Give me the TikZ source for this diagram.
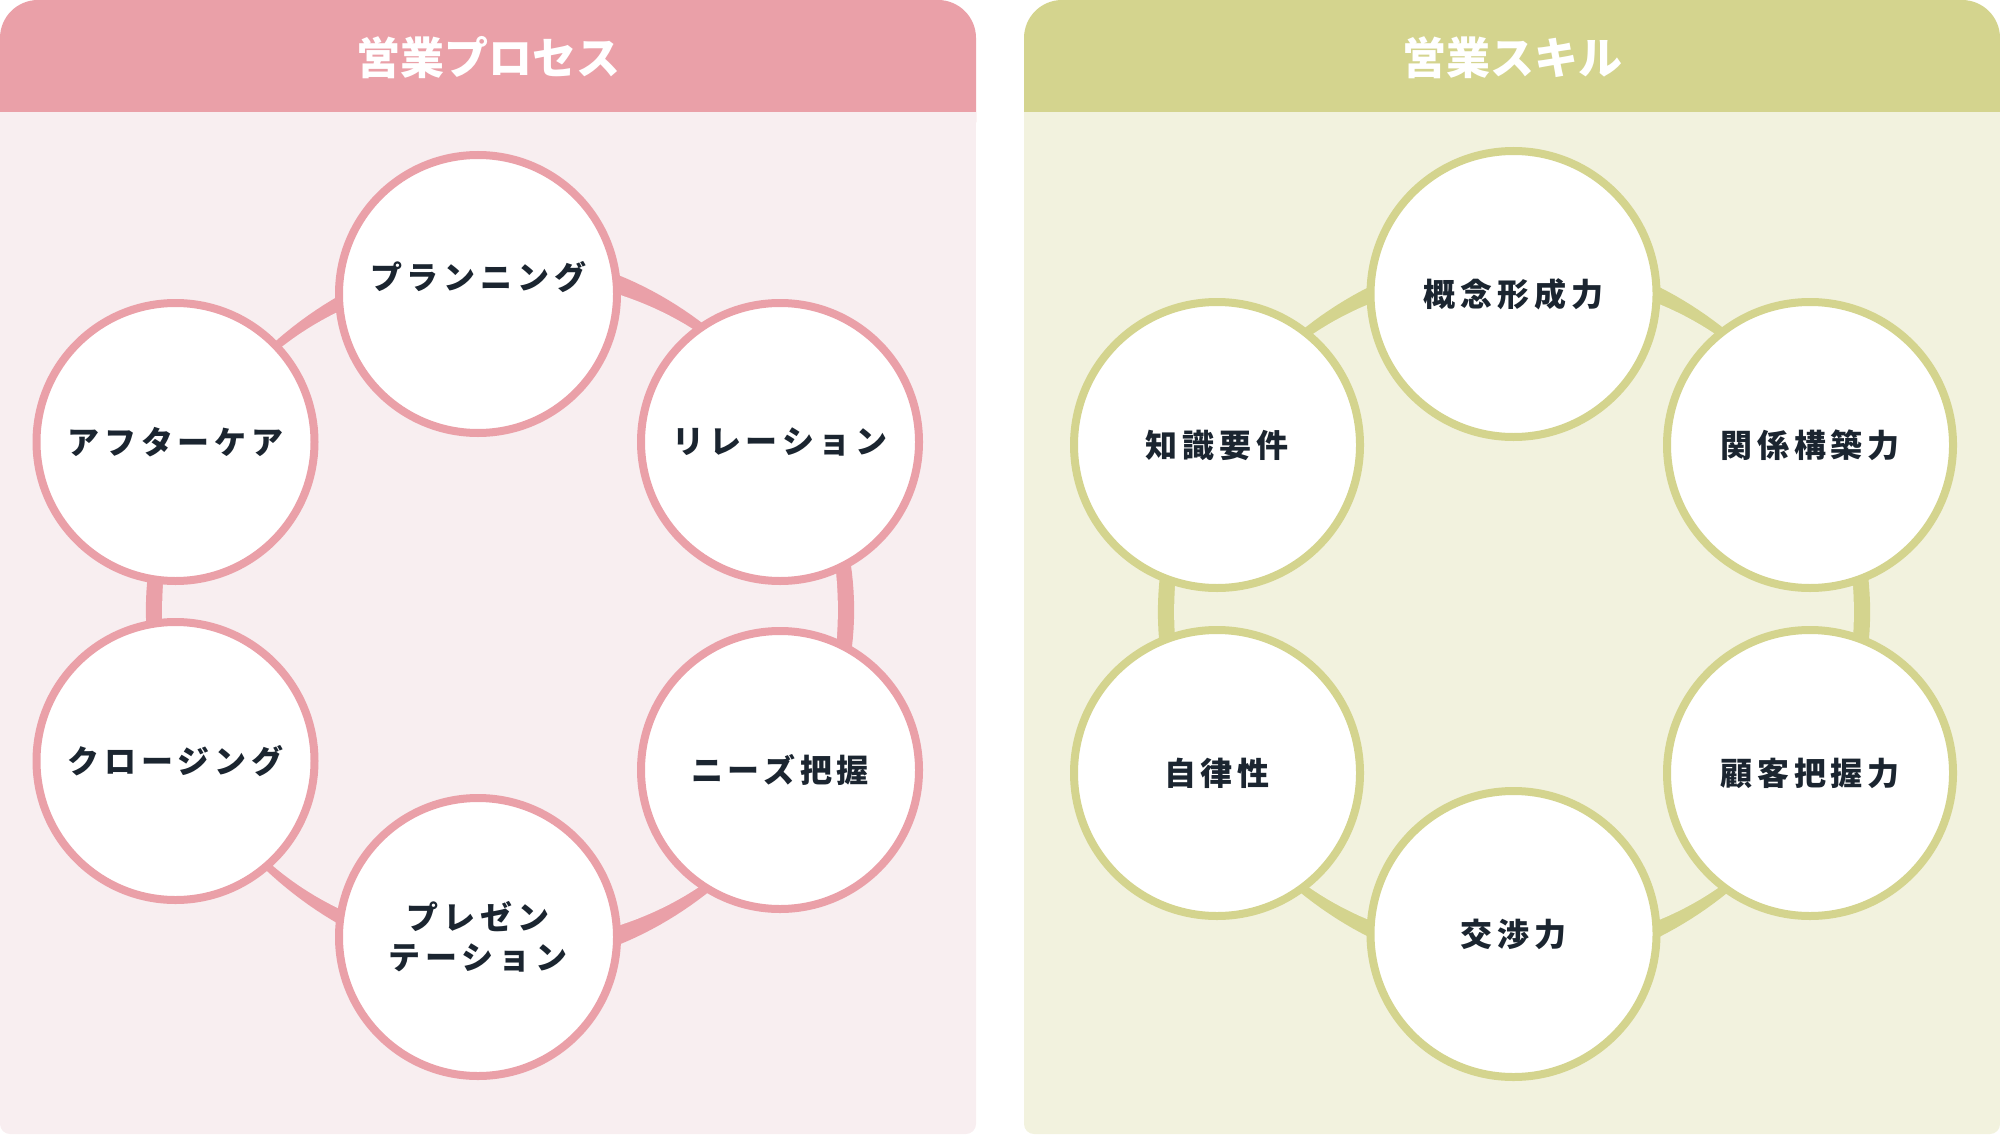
\documentclass[tikz,border=0pt]{standalone}
\usepackage{fontspec}
\newfontfamily\jplab{Noto Sans CJK JP}[LetterSpace=15]
\newfontfamily\jptitle{Noto Sans CJK JP}
\definecolor{pkhd}{HTML}{EAA0A8}
\definecolor{pkbg}{HTML}{F8EEF0}
\definecolor{gnhd}{HTML}{D4D48E}
\definecolor{gnbg}{HTML}{F2F2DE}
\definecolor{txt}{HTML}{1B2530}
\begin{document}
\begin{tikzpicture}[x=0.5pt,y=-0.5pt,
  declare function={rw(\t)=13.8-4.12*cos(2*\t)+6.58*cos(4*\t);},
  circL/.style={circle, draw=pkhd, fill=white, line width=4pt, minimum size=139pt, inner sep=0pt},
  circR/.style={circle, draw=gnhd, fill=white, line width=4pt, minimum size=143pt, inner sep=0pt},
  lab/.style={text=txt, font=\fontsize{16}{20}\selectfont\jplab\bfseries, align=center},
  ttl/.style={text=white, font=\fontsize{22}{24}\selectfont\jptitle\bfseries}]
\useasboundingbox (0,0) rectangle (2000,1134);
% left panel
\fill[pkhd, rounded corners=19pt] (0,0) rectangle (976,160);
\fill[pkbg] (0,112) rectangle (976,1000);
\fill[pkbg, rounded corners=5pt] (0,900) rectangle (976,1134);
\node[ttl] (t1) at (488,58) {営業プロセス};
% left ring
\fill[pkhd] plot[domain=0:360,samples=241] ({500+(346+rw(\x)/2)*cos(\x)},{610+(346+rw(\x)/2)*sin(\x)}) -- cycle;
\fill[pkbg] plot[domain=0:360,samples=241] ({500+(346-rw(\x)/2)*cos(\x)},{610+(346-rw(\x)/2)*sin(\x)}) -- cycle;
\node[circL, label={[lab, yshift=8.5pt]center:プランニング}] (a1) at (478,294) {};
\node[circL, lab] (a2) at (780,442) {リレーション};
\node[circL, lab] (a3) at (780,770) {ニーズ把握};
\node[circL, lab] (a4) at (478,937) {プレゼン\\テーション};
\node[circL, lab] (a5) at (175.5,761) {クロージング};
\node[circL, lab] (a6) at (175.5,442) {アフターケア};
% right panel
\fill[gnhd, rounded corners=19pt] (1024,0) rectangle (2000,160);
\fill[gnbg] (1024,112) rectangle (2000,1000);
\fill[gnbg, rounded corners=5pt] (1024,900) rectangle (2000,1134);
\node[ttl] (t2) at (1512,58) {営業スキル};
\fill[gnhd] plot[domain=0:360,samples=241] ({1514+(348+rw(\x)/2)*cos(\x)},{612+(348+rw(\x)/2)*sin(\x)}) -- cycle;
\fill[gnbg] plot[domain=0:360,samples=241] ({1514+(348-rw(\x)/2)*cos(\x)},{612+(348-rw(\x)/2)*sin(\x)}) -- cycle;
\node[circR, lab] (b1) at (1513.5,294) {概念形成力};
\node[circR, lab] (b2) at (1810,445) {関係構築力};
\node[circR, lab] (b3) at (1810,773) {顧客把握力};
\node[circR, lab] (b4) at (1513.5,934) {交渉力};
\node[circR, lab] (b5) at (1217,773) {自律性};
\node[circR, lab] (b6) at (1217,445) {知識要件};
\end{tikzpicture}
\end{document}
